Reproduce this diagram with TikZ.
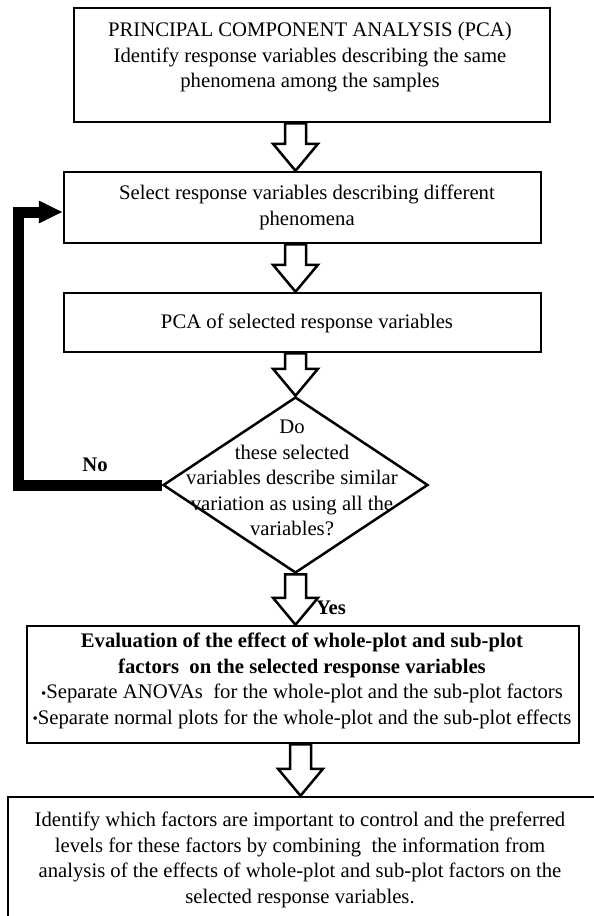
\documentclass[tikz,border=0pt]{standalone}
\usepackage{fontspec}
\setmainfont{Liberation Serif}
\usetikzlibrary{shapes.geometric,calc,arrows.meta}
\newcommand\harrow[2]{%
  \draw[hollowarr] let \p1=#1, \p2=#2 in
    (\x1-10.5pt,\y1) -- (\x1+10.5pt,\y1) -- (\x1+10.5pt,\y2+27pt) --
    (\x1+22.5pt,\y2+27pt) -- (\x1,\y2) -- (\x1-22.5pt,\y2+27pt) --
    (\x1-10.5pt,\y2+27pt) -- cycle;}
\newcommand\bul{{\fontsize{15}{15}\selectfont\raisebox{0.1ex}{\textbullet}}}
\begin{document}
\begin{tikzpicture}[x=1pt,y=-1pt,
  box/.style={draw, line width=2.5pt, rectangle, inner sep=0pt},
  txt/.style={align=center, inner sep=0pt, font=\fontsize{20.7}{25.5}\selectfont},
  lbl/.style={inner sep=0pt, font=\fontsize{20.7}{24}\selectfont\bfseries},
  hollowarr/.style={draw, fill=white, line width=2.5pt, line join=miter},
  loopline/.style={line width=11pt}]
\useasboundingbox (0,0) rectangle (594,916);
\clip (0,0) rectangle (594,916);
% boxes
\node[box, minimum width=476pt, minimum height=114pt] (b1) at (312,65) {};
\node[box, minimum width=477pt, minimum height=71pt] (b2) at (302.5,207.5) {};
\node[box, minimum width=477pt, minimum height=59pt] (b3) at (302.5,322.5) {};
\node[draw, diamond, line width=2.5pt, inner sep=0pt, minimum width=265pt, minimum height=176pt] (d) at (295.5,485) {};
\node[box, minimum width=552pt, minimum height=117pt] (b4) at (303,684.5) {};
\node[box, minimum width=602pt, minimum height=133pt] (b5) at (309,863.5) {};
% texts
\node[txt] (t1) at (310,57.5) {PRINCIPAL COMPONENT ANALYSIS (PCA)\\Identify response variables describing the same\\phenomena among the samples};
\node[txt] (t2) at (307,207.5) {Select response variables describing different\\phenomena};
\node[txt] (t3) at (307,323) {PCA of selected response variables};
\node[txt] (td) at (292,478) {Do\\these selected\\variables describe similar\\variation as using all the\\variables?};
\node[txt] (t4) at (302,681) {\textbf{Evaluation of the effect of whole-plot and sub-plot}\\\textbf{factors\ \ on the selected response variables}\\\bul Separate ANOVAs\ \ for the whole-plot and the sub-plot factors\\\bul Separate normal plots for the whole-plot and the sub-plot effects};
\node[txt] (t5) at (300,860) {Identify which factors are important to control and the preferred\\levels for these factors by combining\ \ the information from\\analysis of the effects of whole-plot and sub-plot factors on the\\selected response variables.};
% hollow arrows
\harrow{(b1.south -| d.center)}{(b2.north -| d.center)}
\harrow{(b2.south -| d.center)}{(b3.north -| d.center)}
\harrow{(b3.south -| d.center)}{(d.north)}
\harrow{(d.south)}{(b4.north -| d.center)}
\harrow{($(b4.south -| d.center)+(5,0)$)}{($(b5.north -| d.center)+(5,0)$)}
% loop back
\coordinate (c1) at (18,485);
\draw[loopline, -{Triangle[length=24pt,width=21pt]}] (d.west) -- (c1) |- ($(b2.west)+(0,4.5)$);
% labels
\node[lbl] (no) at (95,465) {No};
\node[lbl] (yes) at (331,608) {Yes};
\end{tikzpicture}
\end{document}
